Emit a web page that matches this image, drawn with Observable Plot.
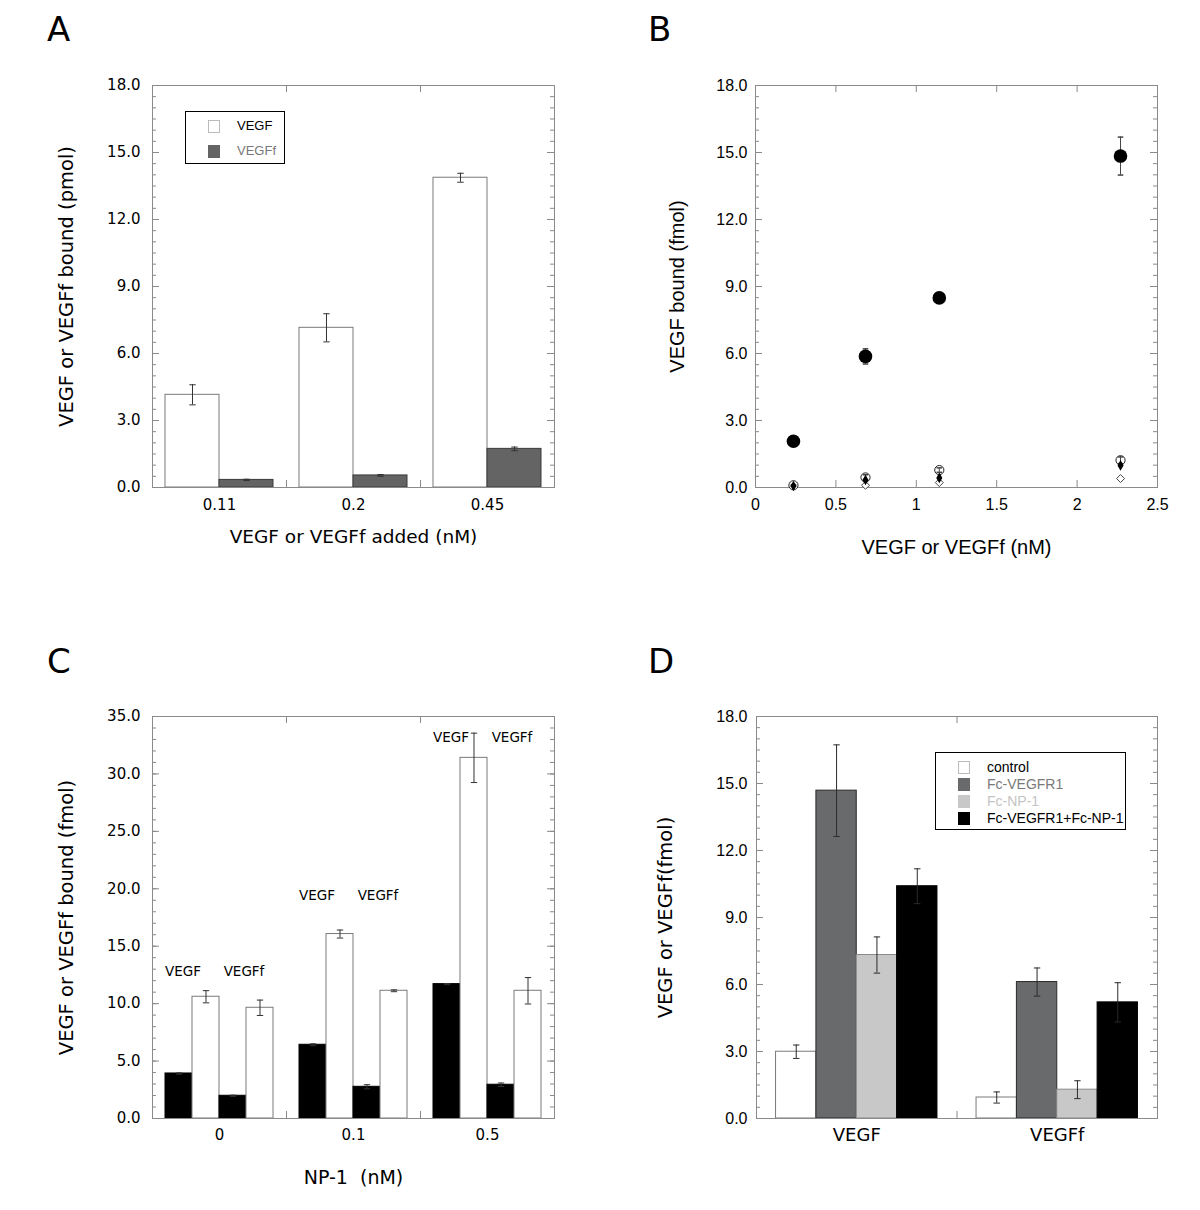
<!DOCTYPE html>
<html>
<head>
<meta charset="utf-8">
<script src="https://cdn.jsdelivr.net/npm/d3@7"></script>
<script src="https://cdn.jsdelivr.net/npm/@observablehq/plot@0.6"></script>
<style>
  html, body { margin: 0; padding: 0; background: #fff; }
  #root { position: relative; width: 1200px; height: 1210px; background: #fff; overflow: hidden; }
  .panel { position: absolute; }
  .letter { position: absolute; font-family: "DejaVu Sans", sans-serif; font-size: 34px; line-height: 1; color: #000; }
  .legend { position: absolute; border: 1.5px solid #000; background: #fff; font-family: "Liberation Sans", Arial, sans-serif; box-sizing: border-box; }
  .legend .sw { position: absolute; width: 12px; height: 13px; box-sizing: border-box; }
  .legend .lb { position: absolute; line-height: 14px; white-space: nowrap; }
</style>
</head>
<body>
<div id="root"></div>
<script>
// ---------------- DATA ----------------
// Panel A
const A_groups = ["0.11", "0.2", "0.45"];
const A_series = ["VEGF", "VEGFf"];
const A_vegf = [4.15, 7.15, 13.87];
const A_vegfErr = [0.45, 0.63, 0.2];
const A_vegff = [0.34, 0.54, 1.73];
const A_vegffErr = [0.03, 0.04, 0.08];
const A_yMajor = [0, 3, 6, 9, 12, 15, 18];
const A_yMinor = d3.range(0, 18.001, 0.5);

// Panel B
const B_x = [0.236, 0.684, 1.143, 2.27];
const B_filledCircle = [2.07, 5.87, 8.49, 14.84];
const B_filledCircleErr = [0.05, 0.34, 0.05, 0.85];
const B_openCircle = [0.1, 0.45, 0.78, 1.22];
const B_openCircleErr = [0.03, 0.12, 0.1, 0.15];
const B_filledDiamond = [0.07, 0.34, 0.43, 0.99];
const B_openDiamond = [0.08, 0.1, 0.22, 0.4];
const B_xTicks = [0, 0.5, 1, 1.5, 2, 2.5];
const B_yMajor = [0, 3, 6, 9, 12, 15, 18];
const B_yMinor = d3.range(0, 18.001, 0.5);

// Panel C
const C_groups = ["0", "0.1", "0.5"];
const C_series = ["VEGF-1", "VEGF-2", "VEGFf-1", "VEGFf-2"];
const C_vegf1 = [3.92, 6.42, 11.7];
const C_vegf1Err = [0.05, 0.08, 0.05];
const C_vegf2 = [10.6, 16.06, 31.4];
const C_vegf2Err = [0.53, 0.35, 2.15];
const C_vegff1 = [1.98, 2.76, 2.94];
const C_vegff1Err = [0.05, 0.18, 0.15];
const C_vegff2 = [9.64, 11.12, 11.12];
const C_vegff2Err = [0.67, 0.08, 1.15];
const C_labelY = [12.8, 19.4, 33.2];
const C_yMajor = [0, 5, 10, 15, 20, 25, 30, 35];
const C_yMinor = d3.range(0, 35.001, 1);

// Panel D
const D_groups = ["VEGF", "VEGFf"];
const D_series = ["control", "Fc-VEGFR1", "Fc-NP-1", "Fc-VEGFR1+Fc-NP-1"];
const D_control = [2.99, 0.94];
const D_controlErr = [0.3, 0.25];
const D_fcR1 = [14.68, 6.11];
const D_fcR1Err = [2.05, 0.63];
const D_fcNP1 = [7.32, 1.29];
const D_fcNP1Err = [0.81, 0.4];
const D_both = [10.4, 5.2];
const D_bothErr = [0.78, 0.88];
const D_yMajor = [0, 3, 6, 9, 12, 15, 18];
const D_yMinor = d3.range(0, 18.001, 0.5);

// ---------------- HELPERS ----------------
const W = 600, H = 600;
const FRAME = "#8a8a8a";
const LUC = "DejaVu Sans, sans-serif";
const ARI = "Liberation Sans, Arial, sans-serif";
const cap = {draw(ctx, size) { const r = Math.sqrt(size / Math.PI); ctx.moveTo(-r, 0); ctx.lineTo(r, 0); }};

function rowsFrom(groups, series, vals, errs) {
  return groups.flatMap((g, i) => series.map((s, k) => ({g, s, v: vals[k][i], e: errs[k][i]})));
}

function frameMarks({fw, yMajor, yMinor, yPad, yFont, yFontSize}) {
  return [
    Plot.ruleY(yMinor, {y: d => d, insetRight: fw - 4, stroke: FRAME}),
    Plot.ruleY(yMinor, {y: d => d, insetLeft: fw - 4, stroke: FRAME}),
    Plot.ruleY(yMajor, {y: d => d, insetRight: fw - 7, stroke: FRAME}),
    Plot.ruleY(yMajor, {y: d => d, insetLeft: fw - 7, stroke: FRAME}),
    Plot.text(yMajor, {y: d => d, text: d => d.toFixed(1), frameAnchor: "left", dx: -yPad, textAnchor: "end",
      fontFamily: yFont, fontSize: yFontSize, fill: "#000"}),
    Plot.frame({stroke: FRAME})
  ];
}

const baseStyle = (ff, fs) => ({fontFamily: ff, fontSize: fs + "px", background: "transparent", color: "#000", overflow: "visible"});

function barPanel(o) {
  const fw = W - o.ml - o.mr, fh = H - o.mt - o.mb;
  const pi = o.pad, po = o.pad / 2;
  const n = o.groups.length;
  const margins = {width: W, height: H, marginLeft: o.ml, marginRight: o.mr, marginTop: o.mt, marginBottom: o.mb};

  // bars, faceted by group
  const marks = [];
  o.series.forEach((s, k) => {
    marks.push(Plot.barY(o.rows.filter(d => d.s === s), {fx: "g", x: "s", y: "v", fill: o.fills[k], stroke: o.strokes[k], strokeWidth: 1}));
  });
  const er = o.rows.filter(d => d.e > 0);
  marks.push(Plot.ruleX(er, {fx: "g", x: "s", y1: d => d.v - d.e, y2: d => d.v + d.e, stroke: o.errColor, strokeWidth: 1}));
  marks.push(Plot.dot(er, {fx: "g", x: "s", y: d => d.v + d.e, symbol: cap, r: 3.2, stroke: o.errColor, fill: "none", strokeWidth: 1}));
  marks.push(Plot.dot(er, {fx: "g", x: "s", y: d => d.v - d.e, symbol: cap, r: 3.2, stroke: o.errColor, fill: "none", strokeWidth: 1}));
  if (o.extra) marks.push(...o.extra);
  const bars = Plot.plot({
    ...margins,
    fx: {domain: o.groups, paddingInner: pi, paddingOuter: po, axis: null, round: false, label: null},
    x: {domain: o.series, padding: 0, axis: null, round: false, label: null},
    y: {domain: [0, o.yMax], axis: null},
    style: baseStyle(LUC, 15),
    marks
  });

  // frame, ticks and texts on a group-index axis
  const gi = o.groups.map((g, i) => ({g, i}));
  const omarks = [
    ...frameMarks({fw, yMajor: o.yMajor, yMinor: o.yMinor, yPad: o.yPad, yFont: o.yFont, yFontSize: o.yFontSize}),
    Plot.ruleX(d3.range(1, n), {x: d => d, insetBottom: fh - 7, stroke: FRAME}),
    Plot.ruleX(d3.range(1, n), {x: d => d, insetTop: fh - 7, stroke: FRAME}),
    Plot.text(gi, {x: d => d.i + 0.5, text: "g", frameAnchor: "bottom", dy: o.fxPad, lineAnchor: "top", textAnchor: "middle",
      fontFamily: o.fxFont, fontSize: o.fxFontSize, fill: "#000"}),
    Plot.text([o.yLabel], {text: d => d, frameAnchor: "left", dx: o.yLabelDx, rotate: -90, textAnchor: "middle", lineAnchor: "middle",
      fontFamily: o.labelFont, fontSize: o.labelFontSize, fill: "#000"})
  ];
  if (o.xLabel) omarks.push(Plot.text([o.xLabel], {text: d => d, frameAnchor: "bottom", dy: o.xLabelDy, textAnchor: "middle", lineAnchor: "middle",
    fontFamily: o.labelFont, fontSize: o.xLabelFontSize || o.labelFontSize, fill: "#000"}));
  const over = Plot.plot({
    ...margins,
    x: {domain: [0, n], axis: null},
    y: {domain: [0, o.yMax], axis: null},
    style: baseStyle(LUC, 15),
    marks: omarks
  });
  return [bars, over];
}

const root = document.getElementById("root");
function place(els, left, top) {
  (Array.isArray(els) ? els : [els]).forEach(el => {
    const d = document.createElement("div");
    d.className = "panel"; d.style.left = left + "px"; d.style.top = top + "px";
    d.appendChild(el); root.appendChild(d);
  });
}

// ---------------- PANEL A ----------------
const aRows = rowsFrom(A_groups, A_series, [A_vegf, A_vegff], [A_vegfErr, A_vegffErr]);
place(barPanel({
  rows: aRows, groups: A_groups, series: A_series,
  fills: ["#ffffff", "#646464"], strokes: ["#7a7a7a", "#3a3a3a"], errColor: "#333",
  ml: 152, mr: 46, mt: 85, mb: 113, pad: 0.194, yMax: 18,
  yMajor: A_yMajor, yMinor: A_yMinor, yPad: 12, yFont: LUC, yFontSize: 15,
  fxPad: 12, fxFont: LUC, fxFontSize: 15,
  yLabel: "VEGF or VEGFf bound (pmol)", yLabelDx: -86,
  xLabel: "VEGF or VEGFf added (nM)", xLabelDy: 50, xLabelFontSize: 18.5,
  labelFont: LUC, labelFontSize: 19.5
}), 0, 0);

// ---------------- PANEL B ----------------
(function () {
  const ml = 155, mr = 43, mt = 85, mb = 113;
  const fw = W - ml - mr, fh = H - mt - mb;
  const pts = (ys, es) => B_x.map((x, i) => ({x, y: ys[i], e: es ? es[i] : 0}));
  const fc = pts(B_filledCircle, B_filledCircleErr);
  const oc = pts(B_openCircle, B_openCircleErr);
  const fd = pts(B_filledDiamond);
  const od = pts(B_openDiamond);
  const errAll = [...fc, ...oc];
  const marks = [
    Plot.ruleX(B_xTicks, {x: d => d, insetBottom: fh - 7, stroke: FRAME}),
    Plot.ruleX(B_xTicks, {x: d => d, insetTop: fh - 7, stroke: FRAME}),
    Plot.text(B_xTicks, {x: d => d, text: d => String(d), frameAnchor: "bottom", dy: 11, lineAnchor: "top", textAnchor: "middle", fontFamily: ARI, fontSize: 16, fill: "#000"}),
    ...frameMarks({fw, yMajor: B_yMajor, yMinor: B_yMinor, yPad: 8, yFont: ARI, yFontSize: 16}),
    Plot.dot(od, {x: "x", y: "y", symbol: "diamond2", r: 3.6, stroke: "#444", fill: "#fff", strokeWidth: 1}),
    Plot.dot(oc, {x: "x", y: "y", r: 4.6, stroke: "#222", fill: "#fff", strokeWidth: 1}),
    Plot.ruleX(errAll, {x: "x", y1: d => d.y - d.e, y2: d => d.y + d.e, stroke: "#444", strokeWidth: 1}),
    Plot.dot(errAll, {x: "x", y: d => d.y + d.e, symbol: cap, r: 2.8, stroke: "#444", fill: "none"}),
    Plot.dot(errAll, {x: "x", y: d => d.y - d.e, symbol: cap, r: 2.8, stroke: "#444", fill: "none"}),
    Plot.dot(fd, {x: "x", y: "y", symbol: "diamond", r: 3.2, fill: "#000", stroke: "none"}),
    Plot.dot(fc, {x: "x", y: "y", r: 6.8, fill: "#000", stroke: "none"}),
    Plot.text(["VEGF bound (fmol)"], {text: d => d, frameAnchor: "left", dx: -78, rotate: -90, textAnchor: "middle", lineAnchor: "middle", fontFamily: ARI, fontSize: 20, fill: "#000"}),
    Plot.text(["VEGF or VEGFf (nM)"], {text: d => d, frameAnchor: "bottom", dy: 60, textAnchor: "middle", lineAnchor: "middle", fontFamily: ARI, fontSize: 20, fill: "#000"})
  ];
  place(Plot.plot({
    width: W, height: H, marginLeft: ml, marginRight: mr, marginTop: mt, marginBottom: mb,
    x: {domain: [0, 2.5], axis: null}, y: {domain: [0, 18], axis: null},
    style: baseStyle(ARI, 16),
    marks
  }), 600, 0);
})();

// ---------------- PANEL C ----------------
const cRows = rowsFrom(C_groups, C_series, [C_vegf1, C_vegf2, C_vegff1, C_vegff2], [C_vegf1Err, C_vegf2Err, C_vegff1Err, C_vegff2Err]);
const cLabels = C_groups.map((g, i) => ({g, y: C_labelY[i]}));
place(barPanel({
  rows: cRows, groups: C_groups, series: C_series,
  fills: ["#000000", "#ffffff", "#000000", "#ffffff"], strokes: ["#000000", "#7a7a7a", "#000000", "#7a7a7a"], errColor: "#333",
  ml: 152, mr: 46, mt: 86, mb: 112, pad: 0.194, yMax: 35,
  yMajor: C_yMajor, yMinor: C_yMinor, yPad: 12, yFont: LUC, yFontSize: 15,
  fxPad: 11, fxFont: LUC, fxFontSize: 15,
  yLabel: "VEGF or VEGFf bound (fmol)", yLabelDx: -86,
  xLabel: "NP-1  (nM)", xLabelDy: 59, xLabelFontSize: 19,
  labelFont: LUC, labelFontSize: 19.5,
  extra: [
    Plot.text(cLabels, {fx: "g", x: () => C_series[0], y: "y", text: () => "VEGF", dx: 4, fontFamily: LUC, fontSize: 13.5, fill: "#000"}),
    Plot.text(cLabels, {fx: "g", x: () => C_series[2], y: "y", text: () => "VEGFf", dx: 11, fontFamily: LUC, fontSize: 13.5, fill: "#000"})
  ]
}), 0, 630);

// ---------------- PANEL D ----------------
const dRows = rowsFrom(D_groups, D_series, [D_control, D_fcR1, D_fcNP1, D_both], [D_controlErr, D_fcR1Err, D_fcNP1Err, D_bothErr]);
place(barPanel({
  rows: dRows, groups: D_groups, series: D_series,
  fills: ["#ffffff", "#696a6b", "#c8c8c8", "#000000"], strokes: ["#7a7a7a", "#2a2a2a", "#8a8a8a", "#000000"], errColor: "#2a2a2a",
  ml: 156, mr: 43, mt: 86, mb: 112, pad: 0.195, yMax: 18,
  yMajor: D_yMajor, yMinor: D_yMinor, yPad: 9, yFont: ARI, yFontSize: 16,
  fxPad: 10, fxFont: LUC, fxFontSize: 18,
  yLabel: "VEGF or VEGFf(fmol)", yLabelDx: -91,
  xLabel: null,
  labelFont: LUC, labelFontSize: 19.5
}), 600, 630);

// ---------------- LETTERS ----------------
[["A", 47, 12], ["B", 648, 12], ["C", 47, 644], ["D", 648, 644]].forEach(([t, x, y]) => {
  const d = document.createElement("div");
  d.className = "letter"; d.textContent = t; d.style.left = x + "px"; d.style.top = y + "px";
  root.appendChild(d);
});

// ---------------- LEGENDS ----------------
function legend(left, top, w, h, items, rowTops, swLeft, txtLeft, fontSize) {
  const box = document.createElement("div");
  box.className = "legend";
  Object.assign(box.style, {left: left + "px", top: top + "px", width: w + "px", height: h + "px"});
  items.forEach((it, i) => {
    const sw = document.createElement("div");
    sw.className = "sw";
    Object.assign(sw.style, {left: swLeft + "px", top: (rowTops[i] - 6.5) + "px", background: it.fill, border: it.border ? "1px solid " + it.border : "none"});
    const lb = document.createElement("div");
    lb.className = "lb"; lb.textContent = it.label;
    Object.assign(lb.style, {left: txtLeft + "px", top: (rowTops[i] - 7) + "px", color: it.color, fontSize: fontSize + "px"});
    box.appendChild(sw); box.appendChild(lb);
  });
  root.appendChild(box);
}
legend(185, 111, 100, 53, [
  {label: A_series[0], fill: "#fff", border: "#bbb", color: "#000"},
  {label: A_series[1], fill: "#646464", color: "#777"}
], [14, 39], 22, 51, 13);

legend(935, 752, 191, 78, [
  {label: D_series[0], fill: "#fff", border: "#bbb", color: "#000"},
  {label: D_series[1], fill: "#696a6b", color: "#7a7a7a"},
  {label: D_series[2], fill: "#c8c8c8", color: "#c4c4c4"},
  {label: D_series[3], fill: "#000", color: "#000"}
], [14, 31, 48, 65], 22, 51, 14);
</script>
</body>
</html>
